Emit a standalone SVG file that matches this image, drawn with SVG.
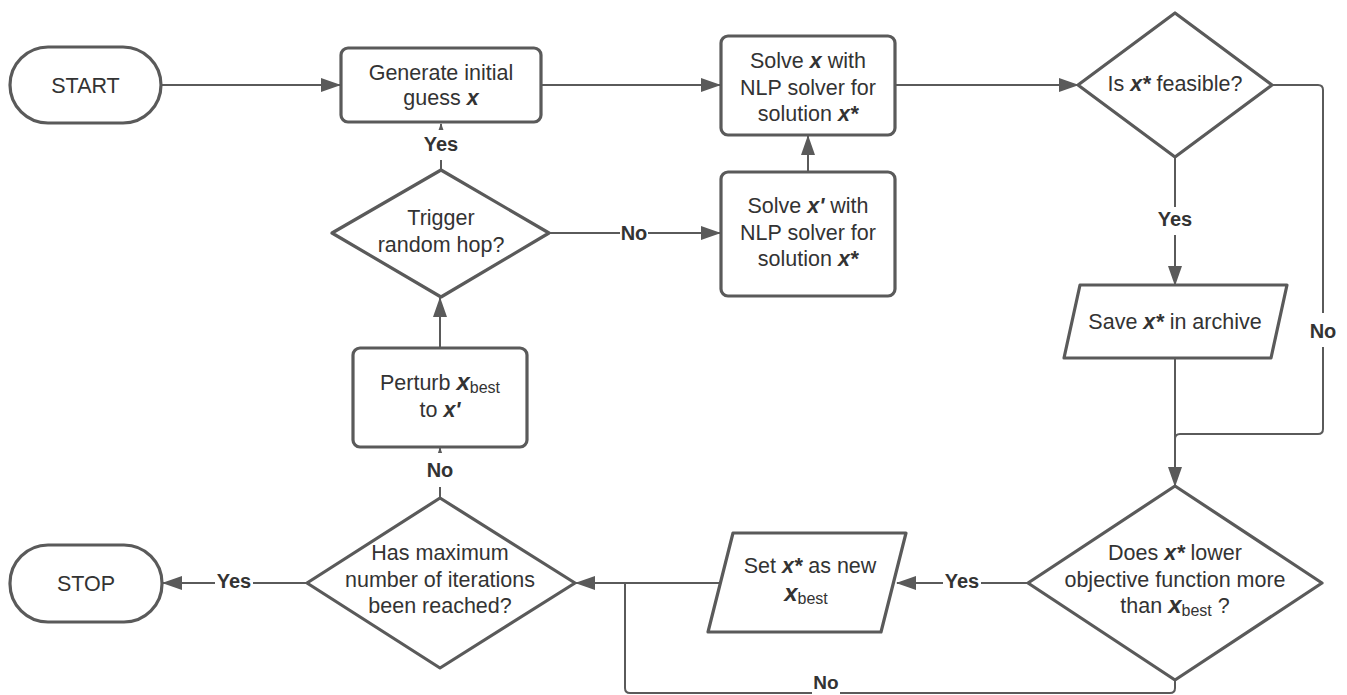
<svg xmlns="http://www.w3.org/2000/svg" width="1347" height="695" viewBox="0 0 1347 695">
<defs>
<marker id="arr" viewBox="0 0 20 14" markerWidth="20" markerHeight="14" refX="19" refY="7" markerUnits="userSpaceOnUse" orient="auto">
<path d="M0,0 L20,7 L0,14 Z" fill="#5a5a5a"/>
</marker>
<style>
.shape{fill:#fff;stroke:#5a5a5a;stroke-width:3.2;stroke-linejoin:round}
.con{fill:none;stroke:#5a5a5a;stroke-width:2}
.t{font-family:"Liberation Sans",Arial,sans-serif;font-size:21.5px;fill:#333;text-anchor:middle}
.bi{font-weight:bold;font-style:italic}
.bx{font-weight:bold;font-style:italic;font-size:24px}
.sub{font-size:16px}
.lbl{font-family:"Liberation Sans",Arial,sans-serif;font-size:20px;font-weight:bold;fill:#333;text-anchor:middle}
.bg{fill:#fff}
</style>
</defs>
<rect width="1347" height="695" fill="#fff"/>

<g id="connectors">
<path class="con" d="M161,85 H340" marker-end="url(#arr)"/>
<path class="con" d="M541,85 H720" marker-end="url(#arr)"/>
<path class="con" d="M895,85 H1078" marker-end="url(#arr)"/>
<path class="con" d="M1175,157 V285" marker-end="url(#arr)"/>
<path class="con" d="M1272,85 H1318 Q1323,85 1323,90 V429 Q1323,434 1318,434 H1180 Q1175,434 1175,439"/>
<path class="con" d="M1175,358 V486" marker-end="url(#arr)"/>
<path class="con" d="M1028,583 H897" marker-end="url(#arr)"/>
<path class="con" d="M721,583 H576" marker-end="url(#arr)"/>
<path class="con" d="M1175,680 V688 Q1175,693 1170,693 H630 Q625,693 625,688 V583"/>
<path class="con" d="M307,583 H163" marker-end="url(#arr)"/>
<path class="con" d="M440,498 V448" marker-end="url(#arr)"/>
<path class="con" d="M440,348 V298" marker-end="url(#arr)"/>
<path class="con" d="M441,170 V124" marker-end="url(#arr)"/>
<path class="con" d="M549,233 H720" marker-end="url(#arr)"/>
<path class="con" d="M808,172 V136" marker-end="url(#arr)"/>

<rect class="bg" x="1156" y="207" width="38" height="28"/>
<text class="lbl" x="1175" y="226">Yes</text>
<rect class="bg" x="1309" y="313" width="28" height="34"/>
<text class="lbl" x="1323" y="338">No</text>
<rect class="bg" x="943" y="570" width="38" height="26"/>
<text class="lbl" x="962" y="588">Yes</text>
<rect class="bg" x="812" y="676" width="28" height="19"/>
<text class="lbl" x="826" y="689" style="font-size:19px">No</text>
<rect class="bg" x="215" y="570" width="38" height="26"/>
<text class="lbl" x="234" y="588">Yes</text>
<rect class="bg" x="425" y="453" width="30" height="34"/>
<text class="lbl" x="440" y="477">No</text>
<rect class="bg" x="422" y="130" width="38" height="30"/>
<text class="lbl" x="441" y="151">Yes</text>
<rect class="bg" x="620" y="220" width="28" height="26"/>
<text class="lbl" x="634" y="240">No</text>
</g>

<g id="start">
<rect class="shape" x="10" y="47" width="151" height="76" rx="38"/>
<text class="t" x="85.5" y="93">START</text>
</g>

<g id="generate">
<rect class="shape" x="341" y="48" width="200" height="74" rx="7"/>
<text class="t" x="441" y="80">Generate initial</text>
<text class="t" x="441" y="105">guess <tspan class="bi">x</tspan></text>
</g>

<g id="solve-x">
<rect class="shape" x="721" y="36" width="174" height="99" rx="7"/>
<text class="t" x="808" y="68">Solve <tspan class="bi">x</tspan> with</text>
<text class="t" x="808" y="95">NLP solver for</text>
<text class="t" x="808" y="121">solution <tspan class="bi">x*</tspan></text>
</g>

<g id="feasible">
<polygon class="shape" points="1175,13 1272,85 1175,157 1078,85"/>
<text class="t" x="1175" y="91">Is <tspan class="bi">x*</tspan> feasible?</text>
</g>

<g id="save">
<polygon class="shape" points="1080,285 1287,285 1271,358 1064,358"/>
<text class="t" x="1175" y="329">Save <tspan class="bi">x*</tspan> in archive</text>
</g>

<g id="lower">
<polygon class="shape" points="1175,486 1322,583 1175,680 1028,583"/>
<text class="t" x="1175" y="560">Does <tspan class="bi">x*</tspan> lower</text>
<text class="t" x="1175" y="587">objective function more</text>
<text class="t" x="1175" y="613">than <tspan class="bx">x</tspan><tspan class="sub" dy="3">best</tspan><tspan dy="-3"> ?</tspan></text>
</g>

<g id="set-best">
<polygon class="shape" points="733,533 906,533 881,632 708,632"/>
<text class="t" x="810" y="573">Set <tspan class="bi">x*</tspan> as new</text>
<text class="t" x="806" y="601"><tspan class="bx">x</tspan><tspan class="sub" dy="3">best</tspan></text>
</g>

<g id="max-iter">
<polygon class="shape" points="440,498 575,583 440,668 307,583"/>
<text class="t" x="440" y="560">Has maximum</text>
<text class="t" x="440" y="587">number of iterations</text>
<text class="t" x="440" y="613">been reached?</text>
</g>

<g id="stop">
<rect class="shape" x="10" y="545" width="152" height="77" rx="38"/>
<text class="t" x="86" y="591">STOP</text>
</g>

<g id="perturb">
<rect class="shape" x="353" y="348" width="174" height="99" rx="7"/>
<text class="t" x="440" y="390">Perturb <tspan class="bx">x</tspan><tspan class="sub" dy="3">best</tspan></text>
<text class="t" x="440" y="417">to <tspan class="bi">x'</tspan></text>
</g>

<g id="trigger">
<polygon class="shape" points="441,170 549,233 441,297 332,233"/>
<text class="t" x="441" y="225">Trigger</text>
<text class="t" x="441" y="252">random hop?</text>
</g>

<g id="solve-xp">
<rect class="shape" x="721" y="172" width="174" height="124" rx="7"/>
<text class="t" x="808" y="213">Solve <tspan class="bi">x'</tspan> with</text>
<text class="t" x="808" y="240">NLP solver for</text>
<text class="t" x="808" y="266">solution <tspan class="bi">x*</tspan></text>
</g>
</svg>
